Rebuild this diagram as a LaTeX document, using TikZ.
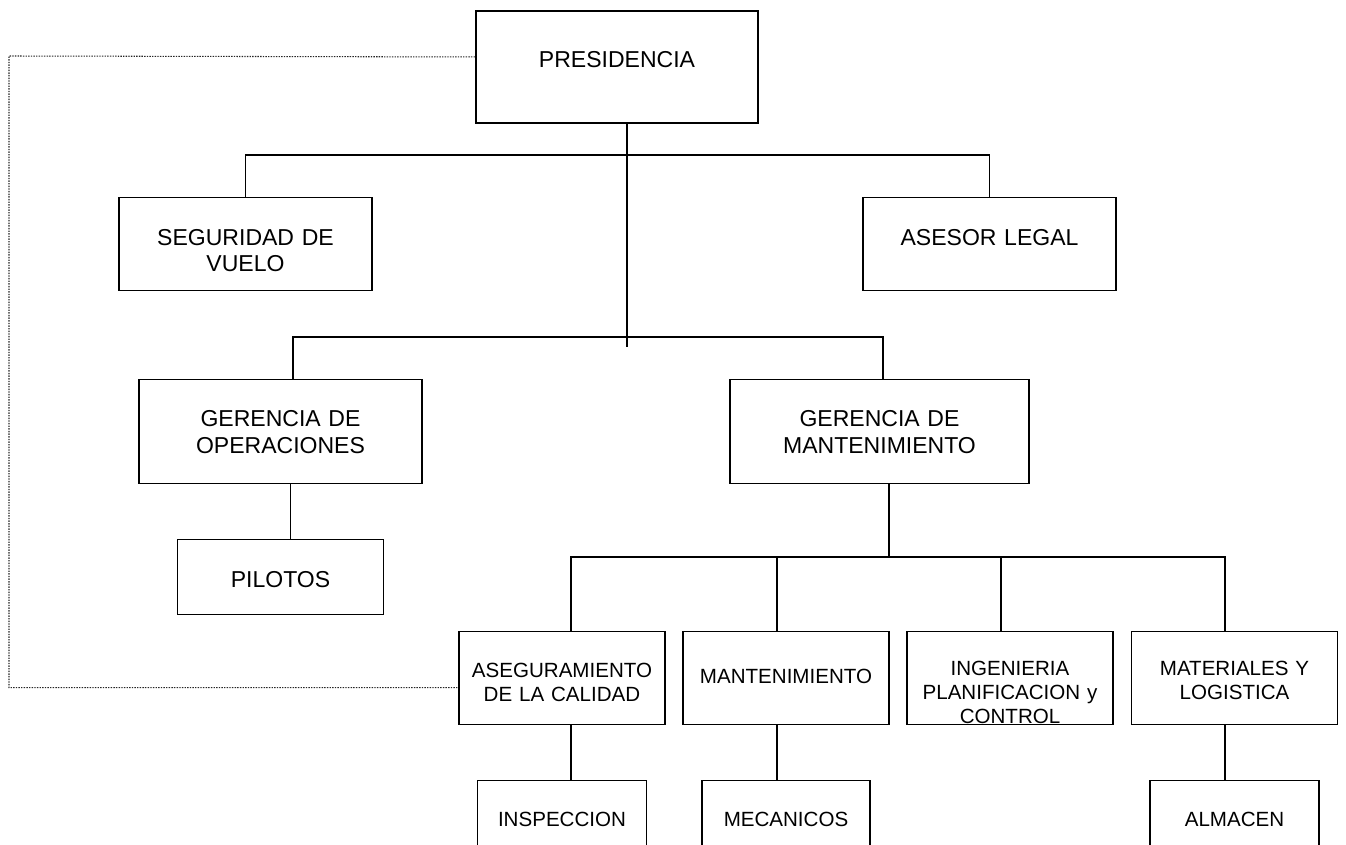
\documentclass[tikz,border=0pt]{standalone}
\usepackage{fontspec}
\setmainfont{Liberation Sans}
\usetikzlibrary{positioning}
\tikzset{
  org box/.style={draw, inner sep=0pt, align=center, line width=0.7pt, font=\fontsize{13.1pt}{15.2pt}\selectfont},
  small box/.style={org box, font=\fontsize{11.7pt}{13.7pt}\selectfont},
  top box/.style={org box, line width=1.1pt},
  link/.style={line width=0.85pt},
  main link/.style={line width=1.1pt},
  dotted link/.style={draw=black!85, line width=0.6pt, dash pattern=on 0.8pt off 0.7pt},
}

\begin{document}
\begin{tikzpicture}[x=0.2mm,y=-0.2mm]
\useasboundingbox (0,0) rectangle (1346,844);
%the nodes
\node [top box, text width=56.4mm, text height=11.3mm, text depth=11.1mm, anchor=north] (jPres) at (617,10) {PRESIDENCIA};
\node [org box, text width=50.6mm, text height=9.5mm, text depth=9.1mm, anchor=north] (jSeg) at (245.5,197) {SEGURIDAD DE\\VUELO};
\node [org box, text width=50.6mm, text height=9.5mm, text depth=9.1mm, anchor=north] (jAses) at (989.5,197) {ASESOR LEGAL};
\node [org box, text width=56.6mm, text height=9.4mm, text depth=11.4mm, anchor=north] (jGop) at (280.5,379) {GERENCIA DE\\OPERACIONES};
\node [org box, text width=59.8mm, text height=9.4mm, text depth=11.4mm, anchor=north] (jGman) at (879.5,379) {GERENCIA DE\\MANTENIMIENTO};
\node [org box, text width=41.2mm, text height=9.6mm, text depth=5.4mm, below=11mm of jGop] (jPil) {PILOTOS};
\node [small box, text width=41.2mm, text height=9.1mm, text depth=9.5mm, anchor=north] (jAseg) at (562,631) {ASEGURAMIENTO\\DE LA CALIDAD};
\node [small box, text width=41.2mm, text height=10.4mm, text depth=8.2mm, anchor=north] (jMant) at (786,631) {MANTENIMIENTO};
\node [small box, text width=41.2mm, text height=8.7mm, text depth=9.9mm, anchor=north] (jIng) at (1010,631) {INGENIERIA\\PLANIFICACION y\\CONTROL};
\node [small box, text width=41.2mm, text height=8.7mm, text depth=9.9mm, anchor=north] (jMat) at (1234.5,631) {MATERIALES Y\\LOGISTICA};
\node [small box, text width=33.8mm, text height=9.1mm, text depth=11mm, below=11mm of jAseg] (jInsp) {INSPECCION};
\node [small box, text width=33.6mm, text height=9.1mm, text depth=11mm, below=11mm of jMant] (jMec) {MECANICOS};
\node [small box, text width=33.8mm, text height=9.1mm, text depth=11mm, below=11mm of jMat] (jAlm) {ALMACEN};
\coordinate (kLeft) at (9,56);
%drawings of lines
\draw[main link] ([xshift=2mm]jPres.south) -- ++(0,223);
\draw[main link] (jSeg.north) -- ++(0,-42) -| (jAses.north);
\draw[link] ([xshift=2.5mm]jGop.north) -- ++(0,-42) -| ([xshift=0.7mm]jGman.north);
\draw[link] ([xshift=2mm]jGop.south) -- ([xshift=2mm]jPil.north);
\draw[link] ([xshift=1.9mm]jGman.south) -- ++(0,74);
\draw[link] ([xshift=1.8mm]jAseg.north) -- ++(0,-74) -| ([xshift=-1.9mm]jMat.north);
\draw[link] ([xshift=-1.8mm]jMant.north) -- ++(0,-74);
\draw[link] ([xshift=-1.8mm]jIng.north) -- ++(0,-74);
\draw[link] ([xshift=1.8mm]jAseg.south) -- ([xshift=1.8mm]jAseg.south |- jInsp.north);
\draw[link] ([xshift=-1.8mm]jMant.south) -- ([xshift=-1.8mm]jMant.south |- jMec.north);
\draw[link] ([xshift=-1.9mm]jMat.south) -- ([xshift=-1.9mm]jMat.south |- jAlm.north);
\draw[dotted link] ([yshift=2mm]jPres.west) -- (kLeft) |- ([yshift=-1.9mm]jAseg.west);
\end{tikzpicture}
\end{document}
